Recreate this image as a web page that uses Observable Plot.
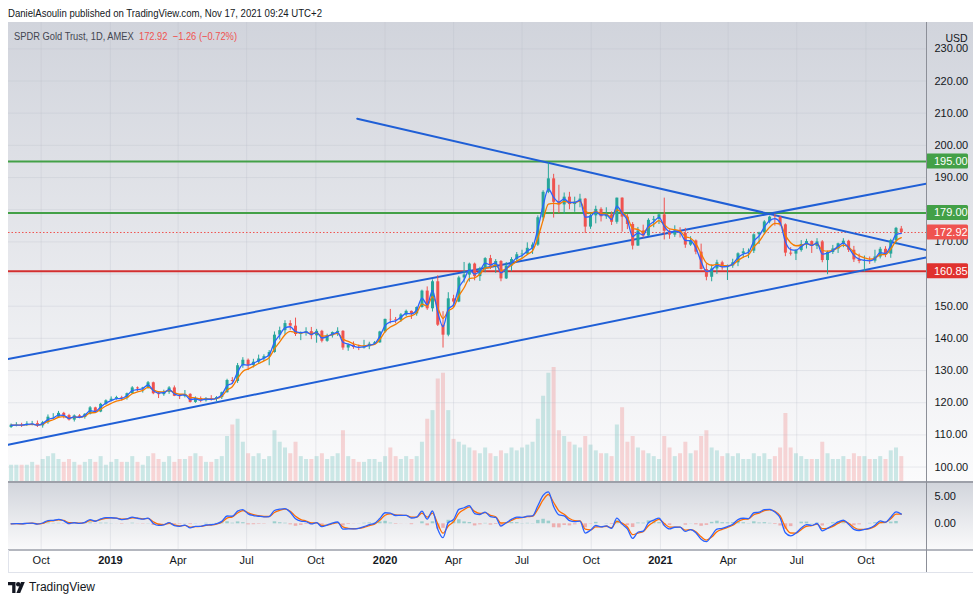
<!DOCTYPE html>
<html><head><meta charset="utf-8">
<script src="https://cdn.jsdelivr.net/npm/d3@7"></script>
<script src="https://cdn.jsdelivr.net/npm/@observablehq/plot@0.6"></script>
<style>
body{margin:0;background:#fff;}
#wrap{position:relative;width:980px;height:601px;overflow:hidden;font-family:'Liberation Sans',Arial,sans-serif;color:#131722;}
.abs{position:absolute;}
</style></head><body><div id="wrap"></div>
<script>
// ---------- DATA (weekly candles of GLD) ----------
const firstWeekMid = "2018-08-22";
const open = [
 112.3,113.0,113.1,113.0,113.4,113.5,112.8,113.8,115.5,115.5,116.7,116.0,114.6,115.9,115.4,116.4,118.4,117.1,119.5,120.6,
 121.1,121.6,121.4,122.8,124.6,124.3,124.6,126.2,122.8,122.5,123.2,124.6,122.0,121.9,122.6,120.1,121.3,120.6,121.3,121.0,121.6,123.1,126.9,126.6,131.5,133.2,131.6,132.6,133.6,134.3,135.6,141.0,142.4,144.6,143.8,141.2,141.6,142.1,140.8,142.2,139.1,140.8,141.8,142.2,137.0,137.9,137.2,137.0,137.4,138.2,138.6,142.0,
 145.9,145.8,145.6,147.3,148.4,147.6,149.6,154.7,149.2,157.6,144.1,141.0,152.3,151.3,158.8,159.7,163.1,159.2,161.6,164.8,162.5,163.9,158.5,162.5,164.5,166.0,166.2,168.0,169.0,177.5,185.4,189.6,182.3,181.5,183.9,181.6,182.3,183.3,174.6,178.1,180.1,177.8,178.4,176.1,183.6,177.7,175.4,168.7,173.4,171.8,176.7,177.0,
 178.4,173.3,172.1,173.4,172.6,169.0,170.3,166.8,161.4,159.0,161.6,163.5,162.0,162.5,163.5,166.3,166.9,167.1,172.2,172.8,176.2,177.7,177.6,175.3,166.5,166.2,167.3,169.2,170.1,168.6,170.0,164.2,166.7,167.8,169.4,170.2,167.4,164.4,163.9,164.1,164.0,165.3,167.7,166.2,170.4,174.0
];
const high = [
 113.4,113.8,113.6,114.1,114.2,114.3,114.2,116.2,116.6,117.3,117.0,116.4,116.2,116.3,116.6,118.8,118.6,119.8,120.9,121.8,
 122.0,122.0,123.0,125.0,124.9,124.8,126.6,126.4,123.3,123.9,125.0,125.2,122.5,123.8,122.8,121.8,121.8,121.6,122.2,121.9,123.3,127.3,127.8,132.2,134.0,133.6,133.5,134.8,134.9,136.2,142.0,143.5,145.5,145.5,146.3,142.0,143.3,143.4,142.8,142.5,141.3,142.0,143.3,142.4,138.2,138.9,137.9,139.4,138.8,139.0,142.2,146.0,
 149.0,146.5,147.7,148.8,148.5,149.8,155.0,156.0,158.2,159.5,148.3,154.2,153.4,159.3,163.6,163.4,163.4,162.1,165.1,165.8,164.5,164.2,163.6,165.1,166.7,167.4,169.7,169.7,178.1,185.9,194.5,191.0,187.6,185.2,185.4,183.9,184.8,183.5,178.9,181.1,180.6,180.6,179.3,183.6,183.7,178.5,176.0,174.5,175.2,177.2,177.9,178.7,
 183.6,173.7,175.0,174.4,174.2,171.6,170.6,169.3,163.1,162.8,164.3,164.0,162.8,164.6,166.6,167.9,167.8,172.5,173.0,176.6,178.0,178.6,177.9,175.6,168.2,167.5,170.4,170.8,170.3,171.0,170.4,167.1,168.9,169.6,171.0,170.5,168.6,166.2,165.6,165.3,167.4,168.3,168.5,170.8,174.5,174.8
];
const low = [
 112.0,112.5,112.3,112.6,112.8,112.3,112.1,113.3,114.8,115.2,115.0,114.3,114.0,115.0,114.9,116.2,116.8,116.9,119.2,120.3,
 120.8,120.5,120.8,122.6,123.5,123.0,124.2,122.5,121.3,122.0,122.6,121.9,121.0,121.5,119.9,119.8,120.0,120.2,120.5,120.3,121.0,123.0,125.6,126.0,130.7,130.0,130.8,132.0,132.8,131.5,135.4,139.5,141.0,142.5,140.6,139.3,140.7,139.6,138.5,138.6,138.8,140.1,140.6,136.3,136.0,136.6,136.2,136.7,136.5,137.9,138.5,141.6,
 144.5,144.6,145.0,146.8,145.9,146.9,149.4,148.7,148.2,143.7,137.0,140.5,149.6,151.1,157.2,157.5,157.9,157.7,160.4,161.4,160.2,157.6,158.3,160.7,163.9,164.8,165.8,166.1,168.6,176.5,185.0,177.4,178.8,178.6,180.0,179.2,180.6,172.6,173.9,175.6,176.2,177.0,175.1,175.5,173.0,173.8,167.5,168.6,171.2,171.7,174.4,175.4,
 170.6,170.8,171.4,171.2,168.0,168.6,166.0,161.3,157.9,157.6,159.9,161.2,158.0,161.8,162.3,164.9,164.8,166.4,169.2,172.3,175.6,174.9,174.7,165.4,165.6,164.2,166.8,167.8,166.4,167.6,163.5,159.8,166.1,166.4,168.2,166.7,163.6,163.2,160.6,163.0,163.4,164.7,165.1,164.9,169.1,172.5
];
const close = [
 113.0,113.1,113.0,113.4,113.5,112.8,113.8,115.5,115.5,116.7,116.0,114.6,115.9,115.4,116.4,118.4,117.1,119.5,120.6,121.1,
 121.6,121.4,122.8,124.6,124.3,124.6,126.2,122.8,122.5,123.2,124.6,122.0,121.9,122.6,120.1,121.3,120.6,121.3,121.0,121.6,123.1,126.9,126.6,131.5,133.2,131.6,132.6,133.6,134.3,135.6,141.0,142.4,144.6,143.8,141.2,141.6,142.1,140.8,142.2,139.1,140.8,141.8,142.2,137.0,137.9,137.2,137.0,137.4,138.2,138.6,142.0,145.9,
 145.8,145.6,147.3,148.4,147.6,149.6,154.7,149.2,157.6,144.1,141.0,152.3,151.3,158.8,159.7,163.1,159.2,161.6,164.8,162.5,163.9,158.5,162.5,164.5,166.0,166.2,168.0,169.0,177.5,185.4,189.6,182.3,181.5,183.9,181.6,182.3,183.3,174.6,178.1,180.1,177.8,178.4,176.1,183.6,177.7,175.4,168.7,173.4,171.8,176.7,177.0,178.4,
 173.3,172.1,173.4,172.6,169.0,170.3,166.8,161.4,159.0,161.6,163.5,162.0,162.5,163.5,166.3,166.9,167.1,172.2,172.8,176.2,177.7,177.6,175.3,166.5,166.2,167.3,169.2,170.1,168.6,170.0,164.2,166.7,167.8,169.4,170.2,167.4,164.4,163.9,164.1,164.0,165.3,167.7,166.2,170.4,174.2,172.92
];
const volume = [ // millions of shares (typical high daily volume of each week)
 6,6,6,6,7,6,8,9,10,8,7,8,7,6,7,8,7,9,6,7,
 8,7,7,9,7,6,9,10,8,7,9,7,8,8,9,10,9,7,7,8,9,16,20,22,14,10,9,10,8,9,18,14,12,10,14,9,8,8,9,10,8,9,10,18,9,8,7,7,8,8,7,9,
 12,9,8,9,8,9,14,22,25,36,38,25,15,14,13,12,11,10,12,10,9,11,10,12,11,12,13,14,22,30,38,40,18,16,14,13,12,16,13,11,10,10,9,20,26,14,16,12,11,10,9,8,
 16,12,9,10,14,10,11,16,18,12,11,9,10,9,10,8,8,10,9,10,8,9,12,24,12,10,9,8,8,8,14,10,8,8,9,8,10,9,9,8,8,9,8,11,12,9
];
const priceTicks = [100,110,120,130,140,150,160,170,180,190,200,210,220,230];
const macdTicks = [0,5];
const timeTicks = ["2018-10-01","2019-01-01","2019-04-01","2019-07-01","2019-10-01","2020-01-01","2020-04-01","2020-07-01","2020-10-01","2021-01-01","2021-04-01","2021-07-01","2021-10-01"];
const timeLabels = ["Oct","2019","Apr","Jul","Oct","2020","Apr","Jul","Oct","2021","Apr","Jul","Oct"];
const greenLevels = [195, 179];
const redLevels = [160.85];
const trendDownDates = ["2019-11-25","2021-12-21"], trendDownPrices = [208.3,167.4];
const channelUpDates = ["2018-08-18","2021-12-21"], channelUpPrices = [133.6,188.1];
const channelLoDates = ["2018-08-18","2021-12-21"], channelLoPrices = [106.9,165.2];

// ---------- derived ----------
function ema(vals, a){ const out=[]; let p=vals[0]; for(const v of vals){ p=p+a*(v-p); out.push(p);} return out; }
const maFast = ema(close, 0.63), maSlow = ema(close, 0.39);
const eF = ema(close, 0.567), eS = ema(close, 0.32);
const macd = eF.map((v,i)=>v-eS[i]);
const signal = ema(macd, 0.672);
const t0 = Date.parse(firstWeekMid+"T00:00Z");
const bars = close.map((c,i)=>({date:new Date(t0+i*7*864e5), open:open[i], high:high[i], low:low[i], close:c,
  vol:volume[i], up:c>=open[i], maF:maFast[i], maS:maSlow[i], macd:macd[i], sig:signal[i], hist:macd[i]-signal[i]}));
const up = bars.filter(d=>d.up), dn = bars.filter(d=>!d.up);
const lastClose = close[close.length-1];
const levelRows = [...greenLevels.map(v=>({v,c:"#43a047"})), {v:lastClose,c:"#ef5350"}, ...redLevels.map(v=>({v,c:"#e0312e"}))];
const line2 = (ds,ps)=>ds.map((d,i)=>({date:new Date(d), price:ps[i]}));
const tDates = timeTicks.map(d=>new Date(d));
const labelOf = new Map(timeTicks.map((d,i)=>[+new Date(d), timeLabels[i]]));
const years = tDates.filter(d=>/^\d{4}$/.test(labelOf.get(+d)));
const months = tDates.filter(d=>!/^\d{4}$/.test(labelOf.get(+d)));

const xOpts = {type:"utc", domain:[new Date("2018-08-18T13:40Z"), new Date("2021-12-20T12:00Z")]};
const yDomain = [95.2,238.2];
const font = "'Liberation Sans', Arial, sans-serif";
const W = 964, H = 460, MR = 46;
// tick labels hidden behind the level boxes (as in the reference)
const yLin = d3.scaleLinear(yDomain,[H,0]);
const shownTicks = priceTicks.filter(t=>levelRows.every(l=>Math.abs(yLin(t)-yLin(l.v))>8));

const wrap = document.getElementById("wrap");
function box(l,t,w,h,bg){ const d=document.createElement("div"); d.className="abs"; Object.assign(d.style,{left:l+"px",top:t+"px",width:w+"px",height:h+"px",background:bg}); wrap.appendChild(d); return d; }
function place(el,l,t){ el.style.position="absolute"; el.style.left=l+"px"; el.style.top=t+"px"; wrap.appendChild(el); return el; }

// backgrounds
box(8,22,965,460,"linear-gradient(#d1d4dc,#fbfbfc)");
box(8,483,965,67,"linear-gradient(#d2d5dc,#fafafb)");
box(8,550,965,22,"#ffffff");

// volume pane
const volPlot = Plot.plot({
  width:W, height:H, marginTop:0, marginBottom:0, marginLeft:0, marginRight:MR,
  style:{background:"transparent", overflow:"visible"},
  x:{...xOpts, axis:null}, y:{domain:[0,160], axis:null},
  marks:[
    Plot.ruleX(up,{x:"date", y1:0, y2:"vol", stroke:"#26a69a", strokeOpacity:0.22, strokeWidth:4}),
    Plot.ruleX(dn,{x:"date", y1:0, y2:"vol", stroke:"#ef5350", strokeOpacity:0.22, strokeWidth:4})
  ]
});
place(volPlot,8,22);

// price pane
const pricePlot = Plot.plot({
  width:W, height:H, marginTop:0, marginBottom:0, marginLeft:0, marginRight:MR,
  style:{background:"transparent", overflow:"visible", fontFamily:font, fontSize:"11px", color:"#131722"},
  x:{...xOpts, axis:null}, y:{domain:yDomain, axis:null},
  marks:[
    Plot.gridX(tDates,{stroke:"#b8bcc8", strokeOpacity:0.25}),
    Plot.gridY(priceTicks,{stroke:"#b8bcc8", strokeOpacity:0.25}),
    Plot.ruleY(greenLevels,{stroke:"#43a047", strokeWidth:2}),
    Plot.ruleY(redLevels,{stroke:"#d32f2f", strokeWidth:2}),
    Plot.ruleY([lastClose],{stroke:"#ef5350", strokeWidth:1, strokeDasharray:"1.5,2"}),
    Plot.line(line2(channelUpDates,channelUpPrices),{x:"date", y:"price", stroke:"#1f5fd6", strokeWidth:2, clip:true}),
    Plot.line(line2(channelLoDates,channelLoPrices),{x:"date", y:"price", stroke:"#1f5fd6", strokeWidth:2, clip:true}),
    Plot.line(line2(trendDownDates,trendDownPrices),{x:"date", y:"price", stroke:"#1f5fd6", strokeWidth:2, clip:true}),
    Plot.ruleX(up,{x:"date", y1:"low", y2:"high", stroke:"#26a69a", strokeWidth:1}),
    Plot.ruleX(dn,{x:"date", y1:"low", y2:"high", stroke:"#ef5350", strokeWidth:1}),
    Plot.ruleX(up,{x:"date", y1:"open", y2:"close", stroke:"#26a69a", strokeWidth:3}),
    Plot.ruleX(dn,{x:"date", y1:"open", y2:"close", stroke:"#ef5350", strokeWidth:3}),
    Plot.line(bars,{x:"date", y:"maS", stroke:"#f57c00", strokeWidth:1.3, curve:"monotone-x"}),
    Plot.line(bars,{x:"date", y:"maF", stroke:"#2962ff", strokeWidth:1.3, curve:"monotone-x"}),
    Plot.axisY(shownTicks,{anchor:"right", tickSize:0, tickPadding:8, label:null, tickFormat:d=>d.toFixed(2), fontSize:11, fill:"#131722"}),
    Plot.text(["USD"],{frameAnchor:"top-right", dx:19, dy:12, textAnchor:"start", fontSize:10.5, fill:"#131722"})
  ]
});
place(pricePlot,8,22);

// level label boxes on the price scale, positioned with the plot's own y scale
(function(){
  const ns="http://www.w3.org/2000/svg";
  let sc=null; try{ sc=pricePlot.scale("y"); }catch(e){}
  const yf = (sc && typeof sc.apply==="function") ? (v=>sc.apply(v)) : yLin;
  const g=document.createElementNS(ns,"g");
  g.setAttribute("font-family",font); g.setAttribute("font-size","11"); g.setAttribute("text-anchor","start");
  levelRows.forEach(l=>{
    const y=yf(l.v);
    const r=document.createElementNS(ns,"rect");
    r.setAttribute("x",W-MR); r.setAttribute("y",y-7.5); r.setAttribute("width",42); r.setAttribute("height",15);
    r.setAttribute("rx",1.5); r.setAttribute("fill",l.c);
    const t=document.createElementNS(ns,"text");
    t.setAttribute("x",W-MR+8); t.setAttribute("y",y); t.setAttribute("dy","0.35em"); t.setAttribute("fill","#ffffff");
    t.setAttribute("text-anchor","start");
    t.textContent=l.v.toFixed(2);
    g.appendChild(r); g.appendChild(t);
  });
  pricePlot.appendChild(g);
})();

// MACD pane + time axis
const macdPlot = Plot.plot({
  width:W, height:89, marginTop:0, marginBottom:22, marginLeft:0, marginRight:MR,
  style:{background:"transparent", overflow:"visible", fontFamily:font, fontSize:"11px", color:"#131722"},
  x:xOpts, y:{domain:[-4.89,7.38]},
  marks:[
    Plot.gridX(tDates,{stroke:"#b8bcc8", strokeOpacity:0.25}),
    Plot.ruleX(bars.filter(d=>d.hist>=0),{x:"date", y1:0, y2:"hist", stroke:"#26a69a", strokeOpacity:0.4, strokeWidth:3.5}),
    Plot.ruleX(bars.filter(d=>d.hist<0),{x:"date", y1:0, y2:"hist", stroke:"#ef5350", strokeOpacity:0.4, strokeWidth:3.5}),
    Plot.line(bars,{x:"date", y:"sig", stroke:"#ff6d00", strokeWidth:1.3, curve:"monotone-x"}),
    Plot.line(bars,{x:"date", y:"macd", stroke:"#2962ff", strokeWidth:1.3, curve:"monotone-x"}),
    Plot.axisY(macdTicks,{anchor:"right", tickSize:0, tickPadding:8, label:null, tickFormat:d=>d.toFixed(2), fontSize:11, fill:"#131722"}),
    Plot.axisX(months,{anchor:"bottom", tickSize:0, tickPadding:6, label:null, tickFormat:d=>labelOf.get(+d), fontSize:11, fill:"#131722"}),
    Plot.axisX(years,{anchor:"bottom", tickSize:0, tickPadding:6, label:null, tickFormat:d=>labelOf.get(+d), fontSize:11, fontWeight:"bold", fill:"#131722"})
  ]
});
place(macdPlot,8,483);

// separators and borders
box(8,481,965,2,"#9da0a9");
box(8,549,965,2,"#b4b7bf");
box(926,22,1,550,"#8c8f98");
box(8,572,965,1,"#e0e3eb");
box(8,550,1,22,"#e0e3eb");

// header
const hdr=document.createElement("div"); hdr.className="abs";
Object.assign(hdr.style,{left:"8px",top:"7px",fontSize:"11.5px",whiteSpace:"nowrap",transformOrigin:"left top",color:"#131722"});
hdr.textContent="DanielAsoulin published on TradingView.com, Nov 17, 2021 09:24 UTC+2";
wrap.appendChild(hdr);
hdr.style.transform=`scaleX(${314/hdr.getBoundingClientRect().width})`;

const leg=document.createElement("div"); leg.className="abs";
Object.assign(leg.style,{left:"14px",top:"30px",fontSize:"11.5px",whiteSpace:"nowrap",transformOrigin:"left top",color:"#434651"});
leg.innerHTML='SPDR Gold Trust, 1D, AMEX&nbsp;&nbsp;<span style="color:#ef5350">'+lastClose.toFixed(2)+'&nbsp;&nbsp;−1.26 (−0.72%)</span>';
wrap.appendChild(leg);
leg.style.transform=`scaleX(${223/leg.getBoundingClientRect().width})`;

// TradingView logo
const logo=document.createElement("div"); logo.className="abs";
Object.assign(logo.style,{left:"8px",top:"580px",height:"14px",display:"flex",alignItems:"center",gap:"4px"});
logo.innerHTML='<svg width="17" height="11" viewBox="0 0 17 11"><path d="M0 0H7.5V11H4.2V3.2H0Z" fill="#131722"/><circle cx="10.2" cy="2.2" r="2.2" fill="#131722"/><path d="M13 0H16.8L12.2 11H8.4Z" fill="#131722"/></svg><span style="font-size:12px;color:#131722">TradingView</span>';
wrap.appendChild(logo);
</script></body></html>
